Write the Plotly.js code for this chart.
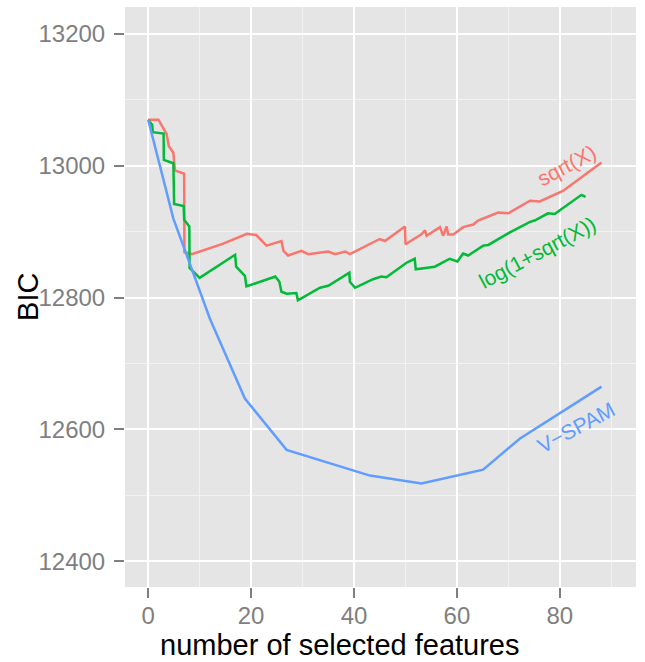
<!DOCTYPE html>
<html>
<head>
<meta charset="utf-8">
<script src="https://cdn.plot.ly/plotly-3.0.1.min.js"></script>
<style>
  html, body { margin: 0; padding: 0; background: white; }
  #chart { width: 645px; height: 662px; }
</style>
</head>
<body>
<div id="chart"></div>
<script>
// BIC against number of selected features
const sqrt_x = [0, 2, 3.6, 4, 4.9, 5.05, 5.2, 7, 7.05, 8.5, 14.6, 19.2, 21, 23, 25.9, 26.3, 27.2, 29.8, 31.1, 35, 36.3, 38.3, 39.2, 45, 46, 49.9, 50, 53.1, 53.8, 54.1, 56.7, 57.3, 58, 58.3, 59.3, 61.2, 63.2, 64.1, 65.8, 68, 70, 74.2, 76.1, 80.6, 88.1]
const sqrt_y = [13070, 13070, 13048, 13030, 13020, 13007, 12993, 12988, 12869, 12866, 12882, 12897, 12895, 12879, 12886, 12871, 12864, 12871, 12866, 12870, 12866, 12870, 12866, 12889, 12886, 12908, 12881, 12896, 12902, 12894, 12907, 12894, 12908, 12896, 12896, 12907, 12911, 12917, 12922, 12929, 12928, 12947, 12946, 12962, 13005]

const logsqrt_x = [0, 0.8, 0.9, 3, 3.05, 4.9, 5.05, 6.9, 7, 8, 8.05, 10, 16.9, 17.1, 18.8, 19.1, 24.7, 25.5, 25.9, 26.9, 28.8, 29.1, 33.4, 35, 39.1, 39.2, 40.2, 43.7, 45.3, 46.3, 50.2, 51.8, 52, 55.7, 58.6, 60.1, 61.2, 62.2, 65.1, 66.1, 70.3, 74.2, 75.1, 77.7, 79, 80.6, 84.2, 85]
const logsqrt_y = [13070, 13062, 13051, 13049, 13009, 13004, 12942, 12939, 12918, 12908, 12845, 12830, 12865, 12847, 12833, 12817, 12832, 12824, 12809, 12806, 12807, 12796, 12815, 12818, 12838, 12824, 12815, 12828, 12832, 12831, 12853, 12859, 12843, 12847, 12859, 12855, 12867, 12864, 12879, 12880, 12899, 12915, 12917, 12928, 12927, 12936, 12956, 12953]

const vspam_x = [0, 4.9, 12, 18.8, 26.9, 43.1, 53.1, 65.1, 72.2, 88.1]
const vspam_y = [13070, 12920, 12768, 12647, 12569, 12530, 12518, 12539, 12586, 12665]

const series_names = ['sqrt(X)', 'log(1+sqrt(X))', 'V\u2212SPAM']
const series_colors = ['#F8766D', '#00BA38', '#619CFF']
// where each series label sits (data coords)
const label_x = [81.2, 75.6, 83.1]
const label_y = [13001, 12868, 12603]

const x_ticks = [0, 20, 40, 60, 80]
const x_minor = [10, 30, 50, 70, 90]
const y_ticks = [12400, 12600, 12800, 13000, 13200]
const y_minor = [12500, 12700, 12900, 13100]

const xs = [sqrt_x, logsqrt_x, vspam_x]
const ys = [sqrt_y, logsqrt_y, vspam_y]

const fam = 'Liberation Sans, Arial, sans-serif'

const traces = series_names.map((name, i) => ({
    x: xs[i],
    y: ys[i],
    mode: 'lines',
    name: name,
    line: { color: series_colors[i], width: 2.5 },
    hoverinfo: 'skip',
}))

const annotations = series_names.map((name, i) => ({
    x: label_x[i],
    y: label_y[i],
    text: name,
    showarrow: false,
    textangle: -28,
    font: { family: fam, size: 21, color: series_colors[i] },
}))

// axis titles placed by hand, the x one sits left of the panel centre as in the original
annotations.push({
    xref: 'paper', yref: 'paper',
    x: 0.419, y: -0.1,
    xanchor: 'center', yanchor: 'middle',
    borderpad: 0,
    text: 'number of selected features',
    showarrow: false,
    font: { family: fam, size: 29, color: 'black' },
})
annotations.push({
    xref: 'paper', yref: 'paper',
    x: -0.19, y: 0.5,
    xanchor: 'center', yanchor: 'middle',
    text: 'BIC',
    textangle: -90,
    showarrow: false,
    font: { family: fam, size: 29, color: 'black' },
})

const tick_font = { family: fam, size: 24, color: '#7F7F7F' }

const layout = {
    width: 645,
    height: 662,
    margin: { l: 125, r: 9, t: 7, b: 75 },
    paper_bgcolor: 'white',
    plot_bgcolor: '#E5E5E5',
    showlegend: false,
    annotations: annotations,
    xaxis: {
        range: [-4.5, 94.8],
        tickvals: x_ticks,
        ticks: 'outside',
        ticklen: 10,
        tickwidth: 2,
        tickcolor: '#7F7F7F',
        tickfont: tick_font,
        ticklabelstandoff: -3,
        showgrid: true,
        gridcolor: 'white',
        gridwidth: 2,
        minor: { tickvals: x_minor, showgrid: true, gridcolor: '#F2F2F2', gridwidth: 1 },
        zeroline: false,
        showline: false,
    },
    yaxis: {
        range: [12361, 13241],
        tickvals: y_ticks,
        tickformat: 'd',
        ticks: 'outside',
        ticklen: 10,
        tickwidth: 2,
        tickcolor: '#7F7F7F',
        tickfont: tick_font,
        ticklabelstandoff: 4,
        showgrid: true,
        gridcolor: 'white',
        gridwidth: 2,
        minor: { tickvals: y_minor, showgrid: true, gridcolor: '#F2F2F2', gridwidth: 1 },
        zeroline: false,
        showline: false,
    },
}

Plotly.newPlot('chart', traces, layout, { displayModeBar: false, staticPlot: true })
</script>
</body>
</html>
